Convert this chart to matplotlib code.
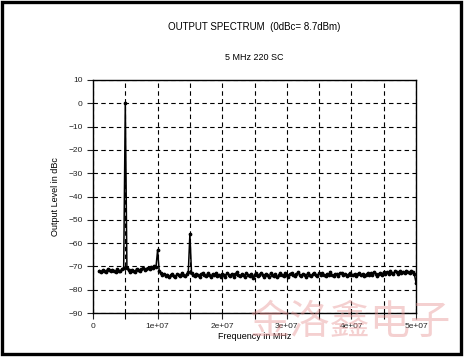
import matplotlib
matplotlib.use('Agg')
import numpy as np
import matplotlib.pyplot as plt
from matplotlib.patches import Rectangle

title = "OUTPUT SPECTRUM  (0dBc= 8.7dBm)"
subtitle = "5 MHz 220 SC"
xlabel = "Frequency in MHz"
ylabel = "Output Level in dBc"
watermark = "金洛鑫电子"

# measured trace, 1 MHz start, 0.25 MHz per point
f_start = 1e6
f_step = 0.25e6
level = [
    -71.8, -72.3, -71.5, -71.9, -72.4, -71.2, -71.7, -72.1, -71.4, -71.9, -72.6, -71.3, -71.8, -72.0,
    -71.1, -70.6, 0.0, -70.8, -71.6,
    -72.2, -71.4, -71.9, -72.5, -71.0, -71.6, -72.0, -71.3, -70.9, -71.5, -71.1, -70.6, -71.2, -70.4, -70.8,
    -69.8, -70.3, -63.0, -72.1, -73.0,
    -73.6, -73.2, -74.1, -73.5, -74.4, -73.8, -73.1, -74.0, -74.6, -73.4, -73.9, -74.3, -72.8, -73.7, -74.2, -73.3, -72.6,
    -56.0, -72.9,
    -73.8, -74.3, -73.1, -73.9, -74.6, -73.4, -72.7, -73.6, -74.2, -73.0,
    -73.7, -74.5, -73.2, -73.9, -72.9, -74.1, -73.5, -74.7, -73.3, -73.8,
    -74.4, -72.8, -73.6, -74.0, -73.1, -74.6, -73.4, -72.6, -73.9, -74.2,
    -73.3, -73.8, -74.5, -72.9, -73.7, -74.1, -73.2, -74.8, -73.5, -73.0,
    -74.3, -73.6, -72.7, -73.9, -74.4, -73.1, -73.7, -74.6, -72.8, -73.5,
    -74.0, -73.3, -74.5, -73.8, -72.9, -73.6, -74.2, -73.0, -73.7, -74.4,
    -73.2, -72.8, -73.9, -74.3, -73.4, -72.6, -73.8, -74.1, -73.1, -73.6,
    -74.5, -72.9, -73.5, -74.0, -73.3, -72.7, -73.9, -74.2, -73.0, -73.6,
    -72.8, -73.7, -74.3, -73.1, -73.5, -72.6, -73.9, -74.0, -73.2, -73.4,
    -74.1, -73.0, -72.7, -73.8, -73.3, -74.2, -73.6, -72.9, -73.5, -73.9,
    -73.2, -74.0, -73.4, -72.8, -73.7, -73.1, -74.3, -73.5, -72.9, -73.6,
    -73.0, -73.8, -72.6, -73.4, -74.0, -73.2, -72.7, -73.5, -72.4, -73.1,
    -72.5, -73.3, -72.1, -72.8, -73.4, -72.0, -72.6, -73.1, -71.9, -72.7,
    -72.2, -73.0, -71.8, -72.5, -72.9, -72.1, -72.6, -73.4,
    -77.0,
]
freq = f_start + f_step * np.arange(len(level))

x_ticks = [0, 1e7, 2e7, 3e7, 4e7, 5e7]
x_tick_labels = ["0", "1e+07", "2e+07", "3e+07", "4e+07", "5e+07"]
y_ticks = list(range(-90, 11, 10))

plt.rcParams['font.family'] = ['Liberation Sans', 'DejaVu Sans']

fig = plt.figure(figsize=(4.66, 3.57), dpi=100)
ax = fig.add_axes([93 / 466, 44 / 357, 323 / 466, 233 / 357])

ax.plot(freq, level, color="black", lw=1.1, marker="o", ms=1.7, zorder=3)

ax.set_xlim(0, 5e7)
ax.set_ylim(-90, 10)
ax.set_xticks(x_ticks)
ax.set_xticklabels(x_tick_labels)
ax.set_xticks([5e6 + 1e7 * k for k in range(5)], minor=True)
ax.set_yticks(y_ticks)
ax.tick_params(labelsize=6, colors="#222222", length=4, width=0.8)
ax.tick_params(which="minor", length=4, width=0.8)
ax.grid(True, which="both", color="black", ls=(0, (4, 3)), lw=0.8)

for s in ax.spines.values():
    s.set_linewidth(1.0)

ax.set_xlabel(xlabel, fontsize=6.5, labelpad=1)
ax.set_ylabel(ylabel, fontsize=6.5, labelpad=6)

fig.text(254.5 / 466, 1 - 27 / 357, title, ha="center", va="center", fontsize=7)
fig.text(254.5 / 466, 1 - 57 / 357, subtitle, ha="center", va="center", fontsize=6.5)

fig.text(350 / 466, 1 - 322 / 357, watermark, ha="center", va="center", fontsize=29,
         color="#e89898", alpha=0.45, family=['Noto Sans CJK SC', 'DejaVu Sans'], zorder=10)

fig.patches.append(Rectangle((2 / 466, 3.5 / 357), 459 / 466, 352 / 357, transform=fig.transFigure,
                             fill=False, edgecolor="black", lw=2.4))

fig.savefig("out.png", dpi=100)
